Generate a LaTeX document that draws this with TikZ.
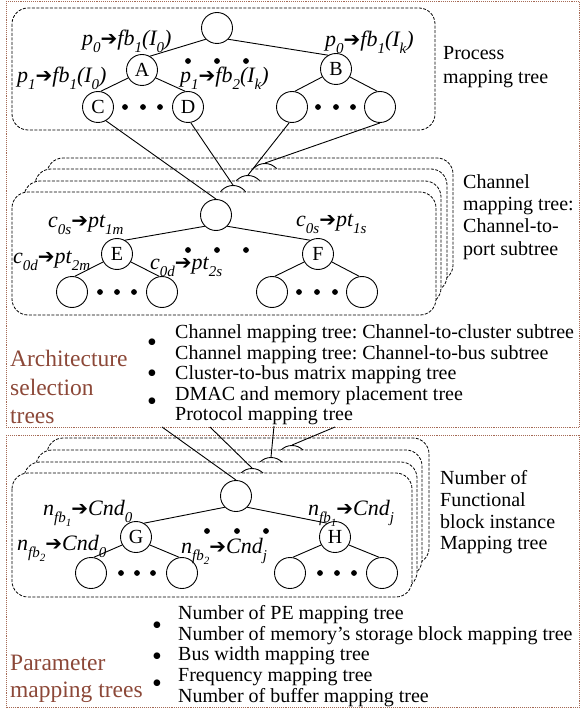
\documentclass[tikz,border=0pt]{standalone}
\usepackage{fontspec}
\setmainfont{Liberation Serif}
\newfontfamily\arrowfont{DejaVu Sans}
\frenchspacing
\definecolor{brn}{RGB}{140,72,56}
\definecolor{brdot}{RGB}{165,105,85}
\newcommand\sbx[1]{\raisebox{-0.32em}{\fontsize{15}{15}\selectfont\itshape #1}}
\newcommand\ssbx[1]{\raisebox{-0.25em}{\fontsize{11}{11}\selectfont\itshape #1}}
\newcommand\myarr{{\arrowfont\upshape\fontsize{20}{20}\selectfont ➔}}
\tikzset{
  vtx/.style={circle, draw, line width=0.9pt, minimum size=31pt, inner sep=0pt, fill=white, font=\fontsize{20}{20}\selectfont},
  tbox/.style={draw, dash pattern=on 3pt off 1.5pt, line width=0.8pt, rounded corners=16pt, fill=white},
  edge/.style={line width=0.9pt},
  lbl/.style={anchor=west, inner sep=0pt, font=\fontsize{22}{22}\selectfont\itshape},
  outer/.style={draw=brdot, densely dotted, line width=0.9pt},
  side/.style={anchor=west, align=left, inner sep=0pt},
  bul/.style={inner sep=0pt, font=\fontsize{28}{28}\selectfont},
  dotfill/.style={fill=black}
}
\begin{document}
\begin{tikzpicture}[x=1pt,y=-1pt]
\useasboundingbox (0,0) rectangle (581,711);
% outer dotted frames
\draw[outer] (6,1.5) rectangle (579.5,427);
\draw[outer] (6,435) rectangle (579.5,707.5);

% ---------- Process mapping tree ----------
\draw[tbox] (12,8) rectangle (435,130);
\node[vtx] (r) at (217,28) {};
\node[vtx] (A) at (142,70) {A};
\node[vtx] (B) at (336,69) {B};
\node[vtx] (C) at (98,107) {C};
\node[vtx] (D) at (188,107) {D};
\node[vtx] (Bl) at (292,107) {};
\node[vtx] (Br) at (380,107) {};
\draw[edge] (r.225) -- (A.60);
\draw[edge] (r.315) -- (B.120);
\draw[edge] (A.210) -- (C.80);
\draw[edge] (A.330) -- (D.100);
\draw[edge] (B.210) -- (Bl.80);
\draw[edge] (B.330) -- (Br.100);
\foreach \x/\y in {188/61,217/61,246/61,125/107,143/107,160/107,318/107,336/107,353/107}
  \fill[dotfill] (\x,\y) circle[radius=2.9pt];
\node[lbl] (l1) at (82,41) {p\sbx{0}\myarr fb\sbx{1}(I\sbx{0})};
\node[lbl] (l2) at (17,78) {p\sbx{1}\myarr fb\sbx{1}(I\sbx{0})};
\node[lbl] (l3) at (180,78) {p\sbx{1}\myarr fb\sbx{2}(I\sbx{k})};
\node[lbl] (l4) at (325,42) {p\sbx{0}\myarr fb\sbx{1}(I\sbx{k})};
\node[side, font=\fontsize{20}{24}\selectfont] (pl) at (443,67) {Process\\mapping tree};

% ---------- Channel mapping stack ----------
\draw[tbox] (47,158) rectangle (453,281);
\node[vtx] (c3) at (265,179) {};
\draw[tbox] (35,169) rectangle (447,292);
\node[vtx] (c2) at (248,191) {};
\draw[tbox] (24,181) rectangle (441,304);
\node[vtx] (c1) at (233,201) {};
\draw[tbox] (12,192) rectangle (436,315);
\node[vtx] (c0) at (216,215) {};
\node[vtx] (E) at (117,254) {E};
\node[vtx] (F) at (318,254) {F};
\node[vtx] (E1) at (72,292) {};
\node[vtx] (E2) at (162,292) {};
\node[vtx] (F1) at (272,292) {};
\node[vtx] (F2) at (362,292) {};
\draw[edge] (c0.225) -- (E.60);
\draw[edge] (c0.315) -- (F.120);
\draw[edge] (E.210) -- (E1.80);
\draw[edge] (E.330) -- (E2.100);
\draw[edge] (F.210) -- (F1.80);
\draw[edge] (F.330) -- (F2.100);
\foreach \x/\y in {188/250,217/250,246/250,100/292,117/292,134/292,299/292,317/292,335/292}
  \fill[dotfill] (\x,\y) circle[radius=2.9pt];
\node[lbl] (m1) at (48,225) {c\sbx{0s}\myarr pt\sbx{1m}};
\node[lbl] (m2) at (13,261) {c\sbx{0d}\myarr pt\sbx{2m}};
\node[lbl] (m3) at (150,267) {c\sbx{0d}\myarr pt\sbx{2s}};
\node[lbl] (m4) at (296,224) {c\sbx{0s}\myarr pt\sbx{1s}};
\node[side, font=\fontsize{20}{22.3}\selectfont] (cl) at (463,217) {Channel\\mapping tree:\\Channel-to-\\port subtree};

% connectors process -> channel stack
\draw[edge] (C.300) -- (c0.north);
\draw[edge] (D.280) -- (c1.north);
\draw[edge] (Bl.260) -- (c2.north);
\draw[edge] (Br.270) -- (c3.north);

% ---------- Architecture selection list ----------
\node[side, text=brn, font=\fontsize{23.5}{28.5}\selectfont] (at) at (10,387) {Architecture\\selection\\trees};
\node[side, font=\fontsize{20}{20.6}\selectfont] (al) at (175,375) {Channel mapping tree: Channel-to-cluster subtree\\Channel mapping tree: Channel-to-bus subtree\\Cluster-to-bus matrix mapping tree\\DMAC and memory placement tree\\Protocol mapping tree};
\node[bul] (ab1) at (152,345) {•};
\node[bul] (ab2) at (152,376) {•};
\node[bul] (ab3) at (152,404) {•};

% ---------- Parameter stack ----------
\draw[tbox] (47,438) rectangle (429,564);
\node[vtx] (p3) at (292,461) {};
\draw[tbox] (36,450) rectangle (422,576);
\node[vtx] (p2) at (271,473) {};
\draw[tbox] (24,462) rectangle (417,588);
\node[vtx] (p1) at (252,484) {};
\draw[tbox] (12,473) rectangle (412,597);
\node[vtx] (p0) at (236,496) {};
\node[vtx] (G) at (136,537) {G};
\node[vtx] (H) at (335,537) {H};
\node[vtx] (G1) at (91,573) {};
\node[vtx] (G2) at (182,573) {};
\node[vtx] (H1) at (290,573) {};
\node[vtx] (H2) at (382,573) {};
\draw[edge] (p0.225) -- (G.60);
\draw[edge] (p0.315) -- (H.120);
\draw[edge] (G.210) -- (G1.80);
\draw[edge] (G.330) -- (G2.100);
\draw[edge] (H.210) -- (H1.80);
\draw[edge] (H.330) -- (H2.100);
\foreach \x/\y in {207/531,237/531,266/531,121/573,137/573,153/573,320/573,337/573,354/573}
  \fill[dotfill] (\x,\y) circle[radius=2.9pt];
\node[lbl] (n1) at (43,513) {n\sbx{fb\ssbx{1}}\myarr Cnd\sbx{0}};
\node[lbl] (n2) at (17,548) {n\sbx{fb\ssbx{2}}\myarr Cnd\sbx{0}};
\node[lbl] (n3) at (181,551) {n\sbx{fb\ssbx{2}}\myarr Cnd\sbx{j}};
\node[lbl] (n4) at (308,513) {n\sbx{fb\ssbx{1}}\myarr Cnd\sbx{j}};
\node[side, font=\fontsize{20}{21.7}\selectfont] (nl) at (440,512.5) {Number of\\Functional\\block instance\\Mapping tree};

% connectors architecture -> parameter stack
\coordinate (s1) at (162,427);
\coordinate (s2) at (210,427);
\coordinate (s3) at (274,426);
\coordinate (s4) at (335,427);
\draw[edge] (s1) -- (p0.north);
\draw[edge] (s2) -- (p1.north);
\draw[edge] (s3) -- (p2.north);
\draw[edge] (s4) -- (p3.north);

% ---------- Parameter list ----------
\node[side, text=brn, font=\fontsize{23.5}{27}\selectfont] (pt) at (10,679) {Parameter\\mapping trees};
\node[side, font=\fontsize{20}{20.75}\selectfont] (pml) at (178,656) {Number of PE mapping tree\\Number of memory’s storage block mapping tree\\Bus width mapping tree\\Frequency mapping tree\\Number of buffer mapping tree};
\node[bul] (pb1) at (157,628) {•};
\node[bul] (pb2) at (157,659) {•};
\node[bul] (pb3) at (157,686) {•};
\end{tikzpicture}
\end{document}
